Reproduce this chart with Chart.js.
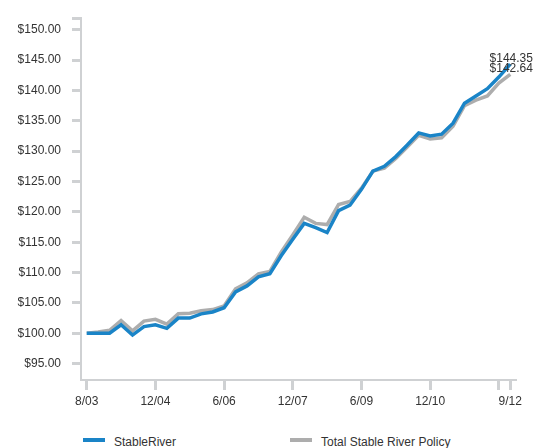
<!DOCTYPE html>
<html>
<head>
<meta charset="utf-8">
<script src="https://cdn.jsdelivr.net/npm/chart.js@4.4.1/dist/chart.umd.min.js"></script>
<style>
    body { margin: 0; background: #fff; font-family: "Liberation Sans", Arial, sans-serif; }
    #wrap { position: relative; width: 536px; height: 448px; }
    .legend-line { position: absolute; width: 22px; height: 4px; top: 438px; }
    .legend-text { position: absolute; top: 434px; font-size: 12px; color: #333; line-height: 16px; }
</style>
</head>
<body>
<div id="wrap">
    <canvas id="growthChart" width="536" height="420"></canvas>
    <div class="legend-line" style="left: 83px; background: #1a84c7;"></div>
    <div class="legend-text" style="left: 114px;">StableRiver</div>
    <div class="legend-line" style="left: 290px; background: #adadad;"></div>
    <div class="legend-text" style="left: 321px;">Total Stable River Policy</div>
</div>
<script>
// Quarter ends, inception 8/03 through 9/12
const quarters = ['8/03', '9/03', '12/03', '3/04', '6/04', '9/04', '12/04', '3/05', '6/05', '9/05',
    '12/05', '3/06', '6/06', '9/06', '12/06', '3/07', '6/07', '9/07', '12/07', '3/08',
    '6/08', '9/08', '12/08', '3/09', '6/09', '9/09', '12/09', '3/10', '6/10', '9/10',
    '12/10', '3/11', '6/11', '9/11', '12/11', '3/12', '6/12', '9/12'];

const stableRiver = [100, 100, 100, 101.4, 99.7, 101.1, 101.4, 100.8, 102.5, 102.5,
    103.2, 103.5, 104.2, 106.8, 107.8, 109.3, 109.8, 112.8, 115.5, 118.1,
    117.4, 116.6, 120.2, 121.1, 123.7, 126.7, 127.5, 129.1, 131.0, 133.0,
    132.5, 132.8, 134.6, 137.9, 139.1, 140.3, 142.2, 144.35];

const totalPolicy = [100, 100.2, 100.5, 102.1, 100.4, 102.0, 102.3, 101.5, 103.2, 103.3,
    103.7, 103.9, 104.5, 107.3, 108.3, 109.8, 110.2, 113.4, 116.2, 119.1,
    118.1, 117.9, 121.2, 121.7, 123.9, 126.7, 127.2, 128.8, 130.7, 132.6,
    132.0, 132.2, 134.1, 137.5, 138.4, 139.1, 141.2, 142.64];

// y-axis labelled ticks
const yTicks = [95, 100, 105, 110, 115, 120, 125, 130, 135, 140, 145, 150];
const yMin = 92.3;
const yMax = 151.9;

// x-axis labels shown, and extra tick marks without a label
const shownLabels = ['8/03', '12/04', '6/06', '12/07', '6/09', '12/10', '9/12'];
const extraTicks = ['6/12'];

const endLabels = ['$144.35', '$142.64'];

const blue = '#1a84c7';
const grey = '#adadad';
const axisGrey = '#cfd1d3';

// draws the ending values above the last points
const endValuePlugin = {
    id: 'endValues',
    afterDatasetsDraw(chart) {
        const ctx = chart.ctx;
        ctx.save();
        ctx.font = '12px "Liberation Sans", Arial, sans-serif';
        ctx.fillStyle = '#333';
        ctx.textAlign = 'center';
        ctx.textBaseline = 'alphabetic';
        chart.data.datasets.forEach((ds, i) => {
            const meta = chart.getDatasetMeta(i);
            const pt = meta.data[meta.data.length - 1];
            ctx.fillText(endLabels[i], pt.x + 1, pt.y - 2);
        });
        ctx.restore();
    }
};

const ctx = document.getElementById('growthChart').getContext('2d');
new Chart(ctx, {
    type: 'line',
    data: {
        labels: quarters,
        datasets: [{
            label: 'StableRiver',
            data: stableRiver,
            borderColor: blue,
            borderWidth: 3.5,
            pointRadius: 0,
            tension: 0,
            fill: false
        }, {
            label: 'Total Stable River Policy',
            data: totalPolicy,
            borderColor: grey,
            borderWidth: 3.5,
            pointRadius: 0,
            tension: 0,
            fill: false
        }]
    },
    options: {
        responsive: false,
        animation: false,
        layout: { padding: { top: 13, right: 20, left: 0, bottom: 0 } },
        plugins: {
            legend: { display: false },
            tooltip: { enabled: false }
        },
        scales: {
            x: {
                type: 'category',
                offset: true,
                border: { color: axisGrey, width: 2 },
                grid: {
                    drawOnChartArea: false,
                    offset: false,
                    tickLength: 10,
                    tickWidth: 3,
                    tickColor: (c) => {
                        const lab = quarters[c.index];
                        return (shownLabels.includes(lab) || extraTicks.includes(lab)) ? axisGrey : 'rgba(0,0,0,0)';
                    }
                },
                ticks: {
                    autoSkip: false,
                    maxRotation: 0,
                    padding: 4,
                    color: '#333',
                    font: { size: 12, family: '"Liberation Sans", Arial, sans-serif' },
                    callback: function(value, index) {
                        const lab = quarters[index];
                        return shownLabels.includes(lab) ? lab : '';
                    }
                },
                afterFit: (scale) => { scale.height = 40; }
            },
            y: {
                min: yMin,
                max: yMax,
                border: { color: axisGrey, width: 2 },
                grid: {
                    drawOnChartArea: false,
                    tickLength: 9,
                    tickWidth: 3,
                    tickColor: axisGrey
                },
                ticks: {
                    padding: 11,
                    color: '#333',
                    font: { size: 12, family: '"Liberation Sans", Arial, sans-serif' },
                    callback: function(value) {
                        return yTicks.includes(value) ? '$' + value.toFixed(2) : '';
                    }
                },
                afterBuildTicks: (scale) => {
                    // labelled ticks plus an unlabelled cap at the top of the axis
                    scale.ticks = yTicks.map(v => ({ value: v })).concat([{ value: yMax }]);
                },
                afterFit: (scale) => { scale.width = 81; }
            }
        }
    },
    plugins: [endValuePlugin]
});
</script>
</body>
</html>
